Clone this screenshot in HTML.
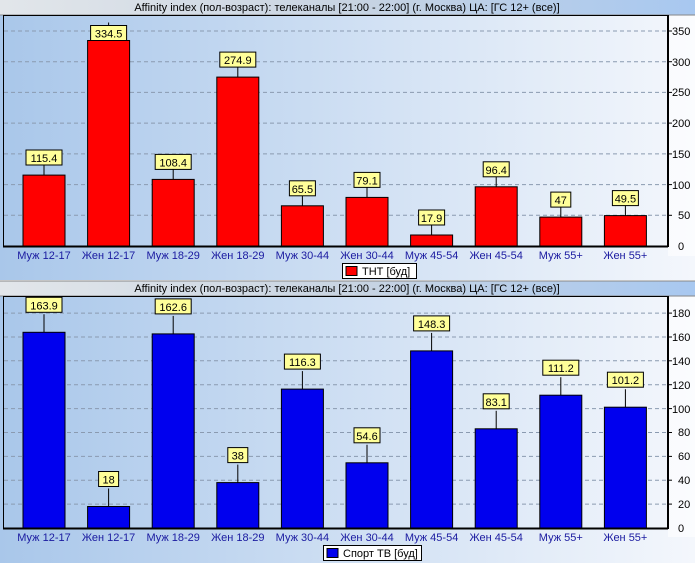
<!DOCTYPE html>
<html><head><meta charset="utf-8"><style>
body{margin:0;width:695px;height:563px;overflow:hidden;background:#fff}
text{font-family:"Liberation Sans",sans-serif;font-size:11px}
</style></head><body>
<svg width="695" height="563" xmlns="http://www.w3.org/2000/svg">
<defs>
<linearGradient id="bg" x1="0" x2="1" y1="0" y2="0"><stop offset="0" stop-color="#a9c7ea"/><stop offset="1" stop-color="#f4f7fc"/></linearGradient>
<linearGradient id="tb" x1="0" x2="1"><stop offset="0" stop-color="#e2e6ea"/><stop offset="0.5" stop-color="#c8d4e2"/><stop offset="1" stop-color="#a8c8f0"/></linearGradient>
</defs>
<!-- TOP PANEL -->
<rect x="0" y="0" width="695" height="280" fill="url(#bg)"/>
<rect x="0" y="0" width="695" height="15" fill="url(#tb)"/>
<line x1="0" y1="15" x2="695" y2="15" stroke="#888"/>
<text x="347" y="11" text-anchor="middle" fill="#000">Affinity index (пол-возраст): телеканалы [21:00 - 22:00]  (г. Москва)   ЦА: [ГС 12+ (все)]</text>
<rect x="668" y="16" width="27" height="240" fill="#fff" opacity="0.6"/>
<g stroke="#8a9ab0" stroke-dasharray="4,3">
<line x1="4" x2="668" y1="31" y2="31"/><line x1="4" x2="668" y1="61.7" y2="61.7"/><line x1="4" x2="668" y1="92.4" y2="92.4"/><line x1="4" x2="668" y1="123.1" y2="123.1"/><line x1="4" x2="668" y1="153.9" y2="153.9"/><line x1="4" x2="668" y1="184.6" y2="184.6"/><line x1="4" x2="668" y1="215.3" y2="215.3"/>
</g>
<g fill="#000">
<text x="672" y="35">350</text><text x="672" y="66">300</text><text x="672" y="96">250</text><text x="672" y="127">200</text><text x="672" y="158">150</text><text x="672" y="189">100</text><text x="678" y="219">50</text><text x="678" y="250">0</text>
</g>
<g stroke="#000" stroke-width="1">
<line x1="668" y1="31" x2="672" y2="31"/><line x1="668" y1="61.7" x2="672" y2="61.7"/><line x1="668" y1="92.4" x2="672" y2="92.4"/><line x1="668" y1="123.1" x2="672" y2="123.1"/><line x1="668" y1="153.9" x2="672" y2="153.9"/><line x1="668" y1="184.6" x2="672" y2="184.6"/><line x1="668" y1="215.3" x2="672" y2="215.3"/>
</g>
<g fill="#ff0000" stroke="#000">
<rect x="23" y="175.1" width="42" height="70.9"/>
<rect x="87.6" y="40.5" width="42" height="205.5"/>
<rect x="152.2" y="179.4" width="42" height="66.6"/>
<rect x="216.8" y="77.1" width="42" height="168.9"/>
<rect x="281.4" y="205.8" width="42" height="40.2"/>
<rect x="346" y="197.4" width="42" height="48.6"/>
<rect x="410.6" y="235" width="42" height="11"/>
<rect x="475.2" y="186.8" width="42" height="59.2"/>
<rect x="539.8" y="217.1" width="42" height="28.9"/>
<rect x="604.4" y="215.6" width="42" height="30.4"/>
</g>
<g stroke="#000">
<line x1="44" y1="157" x2="44" y2="175"/><line x1="108.6" y1="22.5" x2="108.6" y2="40.5"/><line x1="173.2" y1="161.4" x2="173.2" y2="179.4"/><line x1="237.8" y1="59.1" x2="237.8" y2="77.1"/><line x1="302.4" y1="187.8" x2="302.4" y2="205.8"/><line x1="367" y1="179.4" x2="367" y2="197.4"/><line x1="431.6" y1="217" x2="431.6" y2="235"/><line x1="496.2" y1="168.8" x2="496.2" y2="186.8"/><line x1="560.8" y1="199.1" x2="560.8" y2="217.1"/><line x1="625.4" y1="197.6" x2="625.4" y2="215.6"/>
</g>
<g fill="#ffff99" stroke="#000">
<rect x="26" y="150" width="36" height="15"/><rect x="90.6" y="25.5" width="36" height="15"/><rect x="155.2" y="154.4" width="36" height="15"/><rect x="219.8" y="52.1" width="36" height="15"/><rect x="289.4" y="180.8" width="26" height="15"/><rect x="354" y="172.4" width="26" height="15"/><rect x="418.6" y="210" width="26" height="15"/><rect x="483.2" y="161.8" width="26" height="15"/><rect x="550.8" y="192.1" width="20" height="15"/><rect x="612.4" y="190.6" width="26" height="15"/>
</g>
<g fill="#000" text-anchor="middle">
<text x="44" y="162">115.4</text><text x="108.6" y="37.5">334.5</text><text x="173.2" y="166.4">108.4</text><text x="237.8" y="64.1">274.9</text><text x="302.4" y="192.8">65.5</text><text x="367" y="184.4">79.1</text><text x="431.6" y="222">17.9</text><text x="496.2" y="173.8">96.4</text><text x="560.8" y="204.1">47</text><text x="625.4" y="202.6">49.5</text>
</g>
<rect x="3.5" y="15.5" width="664.5" height="230.5" fill="none" stroke="#000"/>
<line x1="3" y1="246.5" x2="668" y2="246.5" stroke="#000" stroke-width="2"/>
<line x1="668" y1="15" x2="668" y2="247" stroke="#000" stroke-width="2"/>
<g fill="#1a1aa0" text-anchor="middle">
<text x="44" y="259">Муж 12-17</text><text x="108.6" y="259">Жен 12-17</text><text x="173.2" y="259">Муж 18-29</text><text x="237.8" y="259">Жен 18-29</text><text x="302.4" y="259">Муж 30-44</text><text x="367" y="259">Жен 30-44</text><text x="431.6" y="259">Муж 45-54</text><text x="496.2" y="259">Жен 45-54</text><text x="560.8" y="259">Муж 55+</text><text x="625.4" y="259">Жен 55+</text>
</g>
<rect x="342.5" y="263.5" width="74" height="15" fill="#fff" stroke="#000"/>
<rect x="346" y="266.5" width="11" height="9" fill="#f00" stroke="#000"/>
<text x="362" y="275" fill="#000">ТНТ [буд]</text>

<!-- BOTTOM PANEL -->
<rect x="0" y="281" width="695" height="282" fill="url(#bg)"/>
<rect x="0" y="281" width="695" height="15" fill="url(#tb)"/>
<line x1="0" y1="281" x2="695" y2="281" stroke="#888"/>
<line x1="0" y1="296" x2="695" y2="296" stroke="#888"/>
<text x="347" y="292" text-anchor="middle" fill="#000">Affinity index (пол-возраст): телеканалы [21:00 - 22:00]  (г. Москва)   ЦА: [ГС 12+ (все)]</text>
<rect x="668" y="297" width="27" height="240" fill="#fff" opacity="0.6"/>
<g stroke="#8a9ab0" stroke-dasharray="4,3">
<line x1="4" x2="668" y1="313.1" y2="313.1"/><line x1="4" x2="668" y1="337" y2="337"/><line x1="4" x2="668" y1="360.8" y2="360.8"/><line x1="4" x2="668" y1="384.7" y2="384.7"/><line x1="4" x2="668" y1="408.6" y2="408.6"/><line x1="4" x2="668" y1="432.5" y2="432.5"/><line x1="4" x2="668" y1="456.4" y2="456.4"/><line x1="4" x2="668" y1="480.2" y2="480.2"/><line x1="4" x2="668" y1="504.1" y2="504.1"/>
</g>
<g fill="#000">
<text x="672" y="317">180</text><text x="672" y="341">160</text><text x="672" y="365">140</text><text x="672" y="389">120</text><text x="672" y="413">100</text><text x="678" y="436">80</text><text x="678" y="460">60</text><text x="678" y="484">40</text><text x="678" y="508">20</text><text x="678" y="532">0</text>
</g>
<g stroke="#000">
<line x1="668" y1="313.1" x2="672" y2="313.1"/><line x1="668" y1="337" x2="672" y2="337"/><line x1="668" y1="360.8" x2="672" y2="360.8"/><line x1="668" y1="384.7" x2="672" y2="384.7"/><line x1="668" y1="408.6" x2="672" y2="408.6"/><line x1="668" y1="432.5" x2="672" y2="432.5"/><line x1="668" y1="456.4" x2="672" y2="456.4"/><line x1="668" y1="480.2" x2="672" y2="480.2"/><line x1="668" y1="504.1" x2="672" y2="504.1"/>
</g>
<g fill="#0000ee" stroke="#000">
<rect x="23" y="332.3" width="42" height="195.7"/>
<rect x="87.6" y="506.5" width="42" height="21.5"/>
<rect x="152.2" y="333.9" width="42" height="194.1"/>
<rect x="216.8" y="482.6" width="42" height="45.4"/>
<rect x="281.4" y="389.1" width="42" height="138.9"/>
<rect x="346" y="462.8" width="42" height="65.2"/>
<rect x="410.6" y="350.9" width="42" height="177.1"/>
<rect x="475.2" y="428.8" width="42" height="99.2"/>
<rect x="539.8" y="395.2" width="42" height="132.8"/>
<rect x="604.4" y="407.2" width="42" height="120.8"/>
</g>
<g stroke="#000">
<line x1="44" y1="314.3" x2="44" y2="332.3"/><line x1="108.6" y1="488.5" x2="108.6" y2="506.5"/><line x1="173.2" y1="315.9" x2="173.2" y2="333.9"/><line x1="237.8" y1="464.6" x2="237.8" y2="482.6"/><line x1="302.4" y1="371.1" x2="302.4" y2="389.1"/><line x1="367" y1="444.8" x2="367" y2="462.8"/><line x1="431.6" y1="332.9" x2="431.6" y2="350.9"/><line x1="496.2" y1="410.8" x2="496.2" y2="428.8"/><line x1="560.8" y1="377.2" x2="560.8" y2="395.2"/><line x1="625.4" y1="389.2" x2="625.4" y2="407.2"/>
</g>
<g fill="#ffff99" stroke="#000">
<rect x="26" y="297.3" width="36" height="15"/><rect x="98.6" y="471.5" width="20" height="15"/><rect x="155.2" y="298.9" width="36" height="15"/><rect x="227.8" y="447.6" width="20" height="15"/><rect x="284.4" y="354.1" width="36" height="15"/><rect x="354" y="427.8" width="26" height="15"/><rect x="413.6" y="315.9" width="36" height="15"/><rect x="483.2" y="393.8" width="26" height="15"/><rect x="542.8" y="360.2" width="36" height="15"/><rect x="607.4" y="372.2" width="36" height="15"/>
</g>
<g fill="#000" text-anchor="middle">
<text x="44" y="309.3">163.9</text><text x="108.6" y="483.5">18</text><text x="173.2" y="310.9">162.6</text><text x="237.8" y="459.6">38</text><text x="302.4" y="366.1">116.3</text><text x="367" y="439.8">54.6</text><text x="431.6" y="327.9">148.3</text><text x="496.2" y="405.8">83.1</text><text x="560.8" y="372.2">111.2</text><text x="625.4" y="384.2">101.2</text>
</g>
<rect x="3.5" y="296.5" width="664.5" height="231.5" fill="none" stroke="#000"/>
<line x1="3" y1="528.5" x2="668" y2="528.5" stroke="#000" stroke-width="2"/>
<line x1="668" y1="296" x2="668" y2="529" stroke="#000" stroke-width="2"/>
<g fill="#1a1aa0" text-anchor="middle">
<text x="44" y="541">Муж 12-17</text><text x="108.6" y="541">Жен 12-17</text><text x="173.2" y="541">Муж 18-29</text><text x="237.8" y="541">Жен 18-29</text><text x="302.4" y="541">Муж 30-44</text><text x="367" y="541">Жен 30-44</text><text x="431.6" y="541">Муж 45-54</text><text x="496.2" y="541">Жен 45-54</text><text x="560.8" y="541">Муж 55+</text><text x="625.4" y="541">Жен 55+</text>
</g>
<rect x="323.5" y="545.5" width="98" height="15" fill="#fff" stroke="#000"/>
<rect x="327" y="548.5" width="11" height="9" fill="#00e" stroke="#000"/>
<text x="343" y="557" fill="#000">Спорт ТВ [буд]</text>
</svg>
</body></html>
